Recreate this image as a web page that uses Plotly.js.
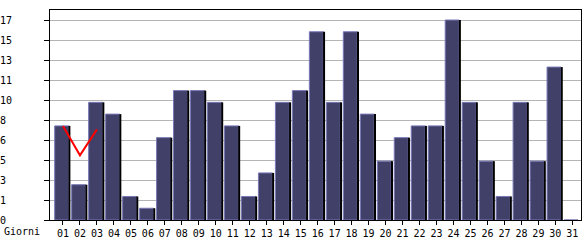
<!DOCTYPE html>
<html><head><meta charset="utf-8">
<script src="https://cdn.plot.ly/plotly-3.0.1.min.js"></script>
<style>html,body{margin:0;padding:0;background:#fff;overflow:hidden}</style>
</head><body><div id="chart" style="width:585px;height:240px"></div>
<script>
const days = ["01","02","03","04","05","06","07","08","09","10","11","12","13","14","15","16","17","18","19","20","21","22","23","24","25","26","27","28","29","30","31"];
const visits = [8,3,10,9,2,1,7,11,11,10,8,2,4,10,11,16,10,16,9,5,7,8,8,17,10,5,2,10,5,13,0];
const trendDays = ["01","02","03"];
const trendValues = [8,5.5,7.7];
const yTickVals = [0,1.7,3.4,5.1,6.8,8.5,10.2,11.9,13.6,15.3,17];
const yTickText = ["0","1","3","5","6","8","10","11","13","15","17"];
const xLabel = "Giorni";

const mono = {family: "DejaVu Sans Mono, monospace", size: 10, color: "#000"};
const padded = yTickText.map(t => t.length < 2 ? t + "\u00a0" : t);

const traces = [
  {type: "bar", x: days, y: visits, offset: -0.489, width: 0.824,
   marker: {color: "#404068", line: {color: "#7878b8", width: 1}},
   hoverinfo: "skip"},
  {type: "bar", x: days, y: visits, offset: 0.318, width: 0.118,
   marker: {color: "#000", line: {width: 0}}, hoverinfo: "skip"},
  {type: "scatter", mode: "lines", x: trendDays, y: trendValues,
   line: {color: "#ff0000", width: 2}, hoverinfo: "skip"}
];

const layout = {
  width: 585, height: 240,
  margin: {l: 50, r: 4, t: 10, b: 20, pad: 0},
  paper_bgcolor: "#fff", plot_bgcolor: "#fff",
  showlegend: false, barmode: "overlay",
  font: mono,
  xaxis: {type: "category", categoryorder: "array", categoryarray: days,
    range: [-0.765, 30.51], showline: true, linecolor: "#000", linewidth: 1,
    mirror: true, ticks: "outside", ticklen: 4, tickcolor: "#000",
    showgrid: false, zeroline: false, tickfont: mono, fixedrange: true},
  yaxis: {range: [0, 17.85], tickmode: "array", tickvals: yTickVals, ticktext: padded,
    showline: true, linecolor: "#000", linewidth: 1, mirror: true,
    ticks: "outside", ticklen: 5, tickcolor: "#000",
    showgrid: true, gridcolor: "#b4b4b4", gridwidth: 1, zeroline: false,
    tickfont: mono, ticklabelstandoff: 30, fixedrange: true},
  annotations: [{text: xLabel, xref: "paper", yref: "paper",
    x: -0.0904, y: -0.0557, xanchor: "left", yanchor: "middle",
    showarrow: false, font: mono}]
};
Plotly.newPlot("chart", traces, layout, {displayModeBar: false, staticPlot: true});
</script></body></html>
